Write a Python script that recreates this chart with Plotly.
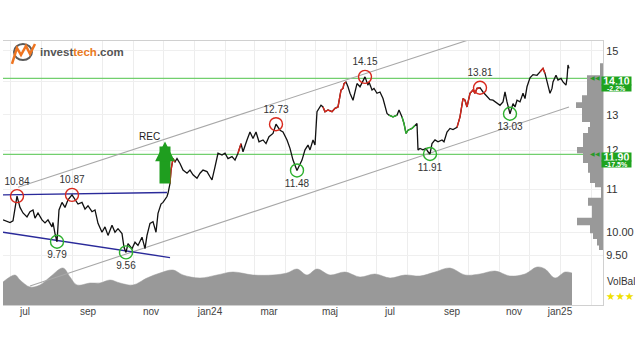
import math
import plotly.graph_objects as go

# ---------------- data ----------------
dates = ["2023-06-24","2023-07-01","2023-07-04","2023-07-08","2023-07-11","2023-07-14","2023-07-18","2023-07-21",
"2023-07-24","2023-07-26","2023-07-29","2023-08-02","2023-08-05","2023-08-08","2023-08-12","2023-08-13","2023-08-15",
"2023-08-17","2023-08-19","2023-08-22","2023-08-25","2023-08-28","2023-09-01","2023-09-04","2023-09-07","2023-09-11",
"2023-09-14","2023-09-17","2023-09-21","2023-09-24","2023-09-27","2023-10-01","2023-10-04","2023-10-07","2023-10-11",
"2023-10-14","2023-10-17","2023-10-21","2023-10-23","2023-10-25","2023-10-27","2023-10-31","2023-11-03","2023-11-06",
"2023-11-10","2023-11-13","2023-11-15","2023-11-18","2023-11-21","2023-11-24","2023-11-26","2023-11-29","2023-12-01",
"2023-12-05","2023-12-06","2023-12-08","2023-12-09","2023-12-11","2023-12-13","2023-12-15","2023-12-18","2023-12-21",
"2023-12-25","2023-12-28","2023-12-31","2024-01-04","2024-01-07","2024-01-10","2024-01-14","2024-01-17","2024-01-19",
"2024-01-22","2024-01-25","2024-01-29","2024-02-01","2024-02-04","2024-02-08","2024-02-11","2024-02-14","2024-02-17",
"2024-02-19","2024-02-23","2024-02-26","2024-02-29","2024-03-03","2024-03-06","2024-03-10","2024-03-13","2024-03-16",
"2024-03-20","2024-03-23","2024-03-27","2024-03-30","2024-04-03","2024-04-06","2024-04-09","2024-04-13","2024-04-18",
"2024-04-21","2024-04-24","2024-04-26","2024-04-29","2024-05-01","2024-05-03","2024-05-04","2024-05-07","2024-05-09",
"2024-05-11","2024-05-14","2024-05-18","2024-05-21","2024-05-24","2024-05-27","2024-05-29","2024-05-30","2024-06-01",
"2024-06-03","2024-06-05","2024-06-08","2024-06-10","2024-06-12","2024-06-15","2024-06-18","2024-06-20","2024-06-23",
"2024-06-24","2024-06-27","2024-06-29","2024-07-02","2024-07-05","2024-07-08","2024-07-10","2024-07-12","2024-07-14",
"2024-07-18","2024-07-22","2024-07-24","2024-07-27","2024-07-29","2024-07-31","2024-08-02","2024-08-06","2024-08-09",
"2024-08-11","2024-08-12","2024-08-14","2024-08-17","2024-08-20","2024-08-22","2024-08-24","2024-08-26","2024-08-29",
"2024-09-01","2024-09-05","2024-09-07","2024-09-10","2024-09-13","2024-09-16","2024-09-20","2024-09-23","2024-09-26",
"2024-09-28","2024-09-30","2024-10-03","2024-10-06","2024-10-08","2024-10-10","2024-10-13","2024-10-16","2024-10-20",
"2024-10-23","2024-10-26","2024-10-30","2024-11-02","2024-11-05","2024-11-07","2024-11-09","2024-11-12","2024-11-15",
"2024-11-17","2024-11-19","2024-11-22","2024-11-25","2024-11-27","2024-11-29","2024-12-02","2024-12-05","2024-12-09",
"2024-12-12","2024-12-15","2024-12-17","2024-12-19","2024-12-20","2024-12-22","2024-12-24","2024-12-25","2024-12-28",
"2024-12-30","2025-01-02","2025-01-04","2025-01-07","2025-01-08","2025-01-09","2025-01-10"]
close = [10.28,10.22,10.26,10.84,10.57,10.44,10.35,10.47,
10.51,10.32,10.44,10.28,10.21,10.28,10.12,10.22,9.97,
9.79,10.51,10.69,10.57,10.75,10.87,10.75,10.65,10.69,
10.53,10.61,10.47,10.51,10.20,10.00,10.12,9.93,10.16,
10.00,10.08,9.97,9.67,9.56,9.75,9.64,9.78,9.71,
9.89,9.64,9.93,10.20,10.24,10.00,10.43,10.65,10.69,
10.83,10.91,11.15,11.49,11.79,11.70,11.79,11.66,11.49,
11.41,11.49,11.37,11.28,11.41,11.49,11.45,11.32,11.24,
11.57,11.93,11.88,11.93,11.79,11.84,11.75,11.93,12.19,
11.97,12.29,12.51,12.33,12.51,12.24,12.29,12.19,12.38,
12.47,12.73,12.56,12.51,12.29,12.06,11.75,11.48,11.75,
12.02,12.15,12.02,12.29,12.15,13.09,13.14,13.28,13.23,
13.09,13.14,13.09,13.19,13.23,13.74,13.79,13.94,13.99,
13.84,13.64,13.43,13.68,13.94,13.84,14.05,14.15,13.89,
13.99,13.74,13.79,13.64,13.68,13.48,13.23,13.04,12.99,
12.94,12.99,13.14,12.94,12.75,12.47,12.56,12.61,12.70,
12.75,12.02,12.06,12.02,12.06,11.97,11.91,12.19,12.29,
12.24,12.29,12.24,12.51,12.61,12.58,12.64,12.94,13.48,
13.43,13.23,13.64,13.74,13.64,13.79,13.81,13.68,13.53,
13.45,13.43,13.33,13.28,13.38,13.68,13.38,13.03,13.33,
13.23,13.43,13.38,13.64,13.48,13.84,14.12,14.22,14.20,
14.31,14.42,14.26,13.99,13.89,13.64,13.79,13.99,14.20,
14.05,14.10,13.99,13.89,14.10,14.53,14.42]

red_spans = [("2023-12-08", "2023-12-13"), ("2024-02-14", "2024-02-17"), ("2024-05-09", "2024-06-01"),
             ("2024-09-20", "2024-10-13"), ("2024-12-12", "2024-12-17")]
green_spans = [("2024-07-14", "2024-07-22"), ("2024-07-27", "2024-08-09")]

peak_dates = ["2023-07-08", "2023-09-01", "2024-03-23", "2024-06-20", "2024-10-13"]
peak_values = [10.84, 10.87, 12.73, 14.15, 13.81]
trough_dates = ["2023-08-17", "2023-10-25", "2024-04-13", "2024-08-24", "2024-11-12"]
trough_values = [9.79, 9.56, 11.48, 11.91, 13.03]

resistance = 14.10
resistance_pct = "-2.2%"
support = 11.90
support_pct = "-17.5%"

channel_upper_dates = ["2023-07-09", "2024-12-01"]
channel_upper_values = [11.06, 16.06]
channel_lower_dates = ["2023-07-21", "2025-01-10"]
channel_lower_values = [8.87, 13.23]

rect_top_dates = ["2023-06-24", "2023-12-05"]
rect_top_values = [10.87, 10.93]
rect_bottom_dates = ["2023-06-24", "2023-12-08"]
rect_bottom_values = [10.00, 9.45]

rec_date = "2023-12-03"
rec_value = 12.25

vol_dates = ["2023-06-24","2023-07-06","2023-07-11","2023-07-21","2023-07-31","2023-08-10","2023-08-23","2023-08-30",
"2023-09-06","2023-09-19","2023-09-29","2023-10-09","2023-10-19","2023-11-01","2023-11-15","2023-11-28","2023-12-11",
"2023-12-21","2024-01-07","2024-01-24","2024-02-09","2024-02-29","2024-03-20","2024-04-03","2024-04-13","2024-04-23",
"2024-05-03","2024-05-16","2024-05-31","2024-06-15","2024-06-30","2024-07-15","2024-07-30","2024-08-14","2024-08-29",
"2024-09-13","2024-09-28","2024-10-13","2024-10-28","2024-11-12","2024-11-27","2024-12-09","2024-12-17","2024-12-27",
"2025-01-06","2025-01-13"]
vol_values = [23,30,25,18,20,28,37,28,
20,22,22,25,22,20,27,32,35,
30,27,30,33,30,30,32,36,30,
36,30,33,28,31,27,30,29,33,
37,30,31,34,29,31,38,36,27,
33,32]

# volume-at-price profile (bin edges from top, bar lengths)
vbp_edges = [14.59, 14.20, 13.58, 13.37, 13.20, 12.79, 12.65, 12.48, 12.10, 11.93, 11.67,
             11.42, 11.16, 11.06, 10.80, 10.61, 10.33, 10.16, 9.98, 9.85, 9.71, 9.61]
vbp_volume = [3, 16, 21, 27, 21, 13, 15, 20, 26, 20, 15, 13, 8, 2, 15, 11, 26, 13, 10, 6, 4]

x_range = ["2023-06-24", "2025-02-13"]
price_range = [8.50, 15.33]
price_ticks = [9.5, 10, 11, 12, 13, 14, 15]
price_ticktext = ["9.50", "10.00", "11", "12", "13", "14", "15"]
month_label_dates = ["2023-07-16", "2023-09-17", "2023-11-19", "2024-01-17", "2024-03-16", "2024-05-16",
                     "2024-07-15", "2024-09-15", "2024-11-16", "2025-01-01"]
month_labels = ["jul", "sep", "nov", "jan24", "mar", "maj", "jul", "sep", "nov", "jan25"]

# ---------------- colours ----------------
BLACK = "#111111"
RED = "#d8281c"
GREEN = "#2eb02e"
LINE_GREEN = "#72cf6e"
GRAY_LINE = "#a8a8a8"
BLUE = "#2a2a9a"
VOL_GRAY = "#999999"
BOX_GREEN = "#1ea31e"

fig = go.Figure()

# volume (main axes)
fig.add_trace(go.Scatter(x=vol_dates, y=vol_values, mode="lines", line=dict(color=VOL_GRAY, width=0.5, shape="spline"),
                         fill="tozeroy", fillcolor=VOL_GRAY, xaxis="x", yaxis="y", hoverinfo="skip"))

# volume at price profile
px_, py_ = [0], [vbp_edges[0]]
for i, v in enumerate(vbp_volume):
    px_ += [v, v]
    py_ += [vbp_edges[i], vbp_edges[i + 1]]
px_.append(0)
py_.append(vbp_edges[-1])
fig.add_trace(go.Scatter(x=px_, y=py_, mode="lines", line=dict(color=VOL_GRAY, width=0), fill="toself",
                         fillcolor=VOL_GRAY, xaxis="x2", yaxis="y2", hoverinfo="skip"))

# support / resistance
for lvl in (resistance, support):
    fig.add_trace(go.Scatter(x=x_range, y=[lvl, lvl], mode="lines", line=dict(color=LINE_GREEN, width=1.3),
                             xaxis="x", yaxis="y2"))

# trend channel
fig.add_trace(go.Scatter(x=channel_upper_dates, y=channel_upper_values, mode="lines",
                         line=dict(color=GRAY_LINE, width=1.1), xaxis="x", yaxis="y2"))
fig.add_trace(go.Scatter(x=channel_lower_dates, y=channel_lower_values, mode="lines",
                         line=dict(color=GRAY_LINE, width=1.1), xaxis="x", yaxis="y2"))

# rectangle formation
fig.add_trace(go.Scatter(x=rect_top_dates, y=rect_top_values, mode="lines",
                         line=dict(color=BLUE, width=1.4), xaxis="x", yaxis="y2"))
fig.add_trace(go.Scatter(x=rect_bottom_dates, y=rect_bottom_values, mode="lines",
                         line=dict(color=BLUE, width=1.4), xaxis="x", yaxis="y2"))

# price
fig.add_trace(go.Scatter(x=dates, y=close, mode="lines", line=dict(color=BLACK, width=1.3),
                         xaxis="x", yaxis="y2"))


def span_trace(s, e, color):
    xs = [d for d in dates if s <= d <= e]
    ys = [c for d, c in zip(dates, close) if s <= d <= e]
    return go.Scatter(x=xs, y=ys, mode="lines", line=dict(color=color, width=1.4), xaxis="x", yaxis="y2")


for s, e in red_spans:
    fig.add_trace(span_trace(s, e, RED))
for s, e in green_spans:
    fig.add_trace(span_trace(s, e, GREEN))

# tops / bottoms
fig.add_trace(go.Scatter(x=peak_dates, y=peak_values, mode="markers+text",
                         marker=dict(symbol="circle-open", size=13, color=RED, line=dict(width=1.4)),
                         text=[f"{v:.2f}" for v in peak_values], textposition="top center",
                         textfont=dict(size=10, color="#333333"), xaxis="x", yaxis="y2"))
fig.add_trace(go.Scatter(x=trough_dates, y=trough_values, mode="markers+text",
                         marker=dict(symbol="circle-open", size=13, color=GREEN, line=dict(width=1.4)),
                         text=[f"{v:.2f}" for v in trough_values], textposition="bottom center",
                         textfont=dict(size=10, color="#333333"), xaxis="x", yaxis="y2"))

annotations = []
# REC arrow
annotations.append(dict(x=rec_date, y=math.log10(rec_value), xref="x", yref="y2", text=" ", showarrow=True,
                        ax=0, ay=49, arrowhead=2, arrowsize=0.36, arrowwidth=11, arrowcolor="#1f9e1f"))
annotations.append(dict(x=rec_date, y=math.log10(rec_value), xref="x", yref="y2", text="REC", showarrow=False,
                        xanchor="right", yanchor="bottom", xshift=-3, yshift=-3,
                        font=dict(size=10, color="#222222")))

# level boxes
for lvl, pct in ((resistance, resistance_pct), (support, support_pct)):
    annotations.append(dict(x=1.0, xref="paper", xanchor="left", xshift=-2, y=math.log10(lvl), yref="y2",
                            yanchor="top", yshift=2, text=f"<b>{lvl:.2f}</b>", showarrow=False,
                            bgcolor=BOX_GREEN, width=29, height=8, borderpad=0,
                            font=dict(size=10.5, color="white", family="Liberation Sans, Arial")))
    annotations.append(dict(x=1.0, xref="paper", xanchor="left", xshift=-2, y=math.log10(lvl), yref="y2",
                            yanchor="top", yshift=-6, text=f"<b>{pct}</b>", showarrow=False,
                            bgcolor=BOX_GREEN, width=29, height=6, borderpad=0,
                            font=dict(size=7, color="white", family="Liberation Sans, Arial")))
    annotations.append(dict(x=1.0, xref="paper", xanchor="right", xshift=-1, y=math.log10(lvl), yref="y2",
                            yanchor="middle", text="◀◀", showarrow=False,
                            font=dict(size=6, color="#2a9a2a")))

# VolBal
annotations.append(dict(x=1.0, xref="paper", xanchor="left", xshift=2, y=0.09, yref="paper", yanchor="middle",
                        text="VolBal", showarrow=False, font=dict(size=10, color="#333333")))
annotations.append(dict(x=1.0, xref="paper", xanchor="left", xshift=1, y=0.035, yref="paper", yanchor="middle",
                        text="★★★", showarrow=False,
                        font=dict(size=10.5, color="#f0e000", family="DejaVu Sans")))

# logo text
annotations.append(dict(x=0.058, xref="paper", xanchor="left", y=0.958, yref="paper", yanchor="middle",
                        text="<b><span style='color:#555555'>invest</span><span style='color:#ea7a22'>tech</span>"
                             "<span style='color:#555555'>.com</span></b>",
                        showarrow=False, font=dict(size=11.5, family="Liberation Sans, Arial")))

shapes = [
    dict(type="circle", xref="paper", yref="paper", x0=0.0183, x1=0.0483, y0=0.928, y1=0.9886,
         line=dict(color="#5a5a5a", width=2)),
    dict(type="path", xref="paper", yref="paper",
         path="M 0.015 0.913 L 0.0233 0.9735 L 0.03 0.947 L 0.0383 0.981 L 0.045 0.951 L 0.0533 0.9886",
         line=dict(color="#ee7420", width=2.5)),
]

fig.update_layout(
    width=635, height=357, margin=dict(l=3, r=32, t=41, b=52, autoexpand=False),
    paper_bgcolor="white", plot_bgcolor="white", showlegend=False,
    font=dict(family="Liberation Sans, Arial", size=10, color="#333333"),
    xaxis=dict(type="date", range=x_range, tickmode="array", tickvals=month_label_dates, ticktext=month_labels,
               ticks="", showgrid=False, zeroline=False, showline=True, mirror=True, linecolor="#d0d0d0",
               tickfont=dict(size=10, color="#444444"), automargin=False, ticklabelstandoff=-3,
               minor=dict(dtick="M1", tick0="2023-07-01", showgrid=True, gridcolor="#ededed", ticks="")),
    yaxis=dict(range=[0, 264], visible=False, fixedrange=True, automargin=False),
    yaxis2=dict(overlaying="y", side="right", anchor="x", type="log", automargin=False,
                range=[math.log10(price_range[0]), math.log10(price_range[1])],
                tickmode="array", tickvals=price_ticks, ticktext=price_ticktext, ticks="",
                showgrid=True, gridcolor="#efefef", zeroline=False, showline=True, linecolor="#d0d0d0",
                tickfont=dict(size=11, color="#333333")),
    xaxis2=dict(overlaying="x", range=[600, 0], visible=False, automargin=False),
    annotations=annotations, shapes=shapes,
)

fig.write_html("out.html", config={"displayModeBar": False},
               post_script="document.body.style.margin='0';document.body.style.overflow='hidden';")
